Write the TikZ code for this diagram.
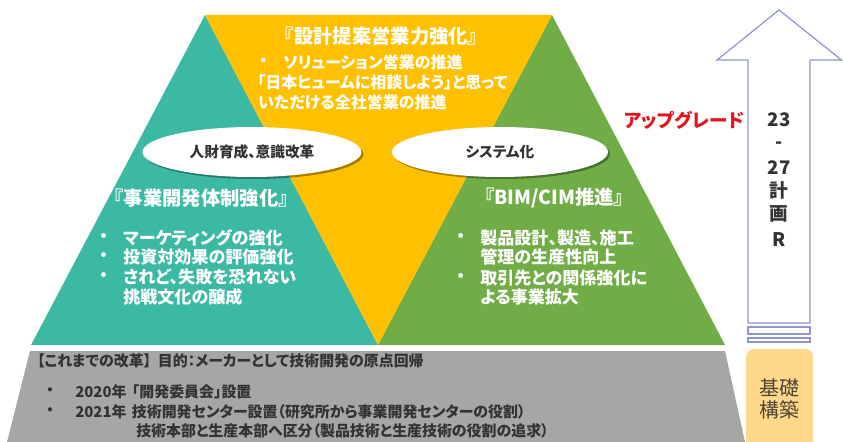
\documentclass[tikz,border=0pt]{standalone}
\usepackage{fontspec}
\setmainfont{Noto Sans CJK JP}[RawFeature=+palt]
\usetikzlibrary{shadows,shapes.geometric}
\definecolor{tealc}{HTML}{3CB9A3}
\definecolor{yellowc}{HTML}{FFC000}
\definecolor{greenc}{HTML}{70AD47}
\definecolor{grayc}{HTML}{A6A6A6}
\definecolor{arrowc}{HTML}{8E96CC}
\definecolor{basec}{HTML}{FFD88A}
\definecolor{basetext}{HTML}{4F4536}
\definecolor{darktext}{HTML}{333333}
\definecolor{redc}{HTML}{E3141C}
\tikzset{
  titletext/.style={inner sep=0pt, text=white, font=\bfseries\fontsize{14.5}{17}\selectfont},
  bodytext/.style={inner sep=0pt, anchor=west, text=white, font=\bfseries\fontsize{12.8}{14}\selectfont},
  toptext/.style={inner sep=0pt, anchor=west, text=white, font=\bfseries\fontsize{12}{14}\selectfont},
  basetxt/.style={inner sep=0pt, anchor=west, text=darktext, font=\bfseries\fontsize{11.2}{13}\selectfont},
  ovalbox/.style={ellipse, fill=white, minimum width=219*0.75pt, minimum height=50*0.75pt, inner sep=0pt,
     drop shadow={shadow xshift=1.5pt, shadow yshift=-1.5pt, opacity=0.35, fill=black},
     font=\bfseries\fontsize{11}{13}\selectfont, text=darktext},
  arrowtext/.style={inner sep=0pt, text=darktext, font=\bfseries\fontsize{14}{16}\selectfont},
  arrowline/.style={draw=arrowc, line width=0.9pt, fill=white},
}
\begin{document}
\begin{tikzpicture}[x=0.75pt, y=-0.75pt]
\useasboundingbox (0,0) rectangle (843,442);
\clip (0,0) rectangle (843,442);
% pyramid sections
\fill[tealc] (205,15) -- (378,345) -- (31,345) -- cycle;
\fill[greenc] (552,15) -- (725,345) -- (378,345) -- cycle;
\fill[yellowc] (205,15) -- (552,15) -- (378,345) -- cycle;
% base
\fill[grayc] (30,351) -- (725,351) -- (745,442) -- (7,442) -- cycle;
% ovals
\node[ovalbox] (o1) at (252,152) {人財育成、意識改革};
\node[ovalbox, minimum width=216*0.75pt] (o2) at (500,152) {システム化};
% top section
\node[titletext] (t1) at (381,36) {『設計提案営業力強化』};
\node[toptext] (tb0) at (259,62) {・};
\node[toptext] (tb1) at (283,62) {ソリューション営業の推進};
\node[toptext] (tb2) at (257,82) {「日本ヒュームに相談しよう」と思って};
\node[toptext] (tb3) at (258,102) {いただける全社営業の推進};
% left section
\node[titletext] (t2) at (201,198) {『事業開発体制強化』};
\node[bodytext] (lb0) at (99,238) {・};
\node[bodytext] (lb1) at (123,238) {マーケティングの強化};
\node[bodytext] (lb2) at (99,257) {・};
\node[bodytext] (lb3) at (123,257) {投資対効果の評価強化};
\node[bodytext] (lb4) at (99,277) {・};
\node[bodytext] (lb5) at (123,277) {されど、失敗を恐れない};
\node[bodytext] (lb6) at (123,297) {挑戦文化の醸成};
% right section
\node[titletext] (t3) at (554,198) {『BIM/CIM推進』};
\node[bodytext] (rb0) at (456,238) {・};
\node[bodytext] (rb1) at (480,238) {製品設計、製造、施工};
\node[bodytext] (rb2) at (480,257) {管理の生産性向上};
\node[bodytext] (rb3) at (456,278) {・};
\node[bodytext] (rb4) at (480,278) {取引先との関係強化に};
\node[bodytext] (rb5) at (480,297) {よる事業拡大};
% base texts
\node[basetxt] (g1) at (37,361) {【これまでの改革】\hspace{5pt}目的：メーカーとして技術開発の原点回帰};
\node[basetxt] (g2) at (46,392) {・};
\node[basetxt] (g3) at (75,392) {2020年\hspace{4pt}「開発委員会」設置};
\node[basetxt] (g4) at (46,412) {・};
\node[basetxt] (g5) at (75,412) {2021年\hspace{4pt}技術開発センター設置（研究所から事業開発センターの役割）};
\node[basetxt] (g6) at (136,431) {技術本部と生産本部へ区分（製品技術と生産技術の役割の追求）};
% upgrade arrow
\draw[arrowline] (779,10) -- (841.5,60) -- (810,60) -- (810,323) -- (748,323) -- (748,60) -- (717,60) -- cycle;
\draw[arrowline] (748,327) rectangle (810,334);
\draw[arrowline] (748,338) rectangle (810,342);
\node[text=redc, inner sep=0pt, font=\bfseries\fontsize{14}{16}\selectfont] (up) at (684,120) {アップグレード};
\node[arrowtext] (a1) at (779,120) {23};
\node[arrowtext] (a2) at (779,145) {-};
\node[arrowtext] (a3) at (779,168) {27};
\node[arrowtext] (a4) at (779,190) {計};
\node[arrowtext] (a5) at (779,214) {画};
\node[arrowtext] (a6) at (779,240) {R};
% foundation box
\fill[basec, rounded corners=6pt] (746,349) rectangle (813,470);
\node[text=basetext, inner sep=0pt, align=center, font=\fontsize{15}{16.5}\selectfont] (kiso) at (779.5,399) {基礎\\構築};
\end{tikzpicture}
\end{document}
